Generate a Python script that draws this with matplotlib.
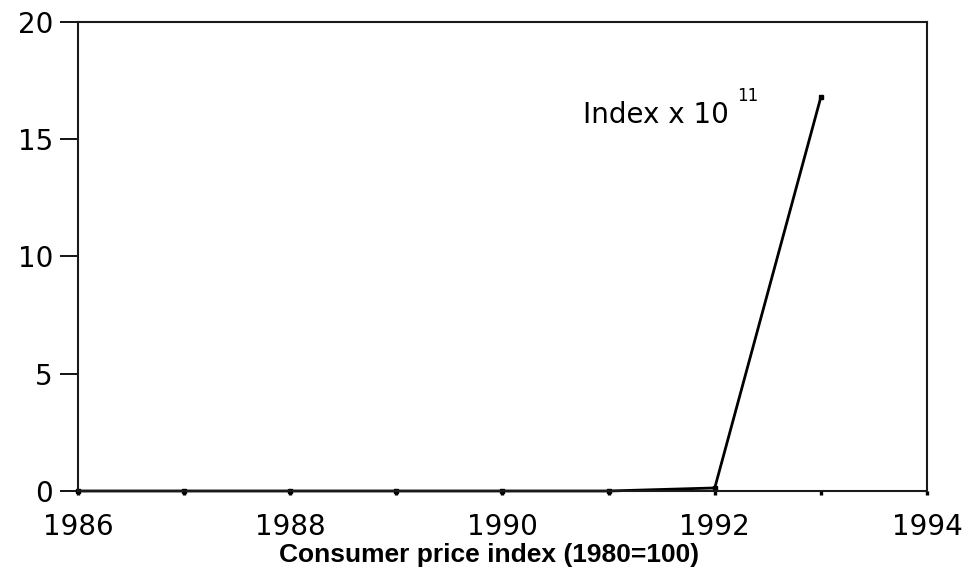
import matplotlib.pyplot as plt

years = [1986, 1987, 1988, 1989, 1990, 1991, 1992, 1993]
cpi = [0.0, 0.0, 0.0, 0.0, 0.0, 0.0, 0.13, 16.8]  # index x 10^11

xticks = [1986, 1988, 1990, 1992, 1994]
yticks = [0, 5, 10, 15, 20]

fig = plt.figure(figsize=(9.76, 5.74), dpi=100)
ax = fig.add_axes([0.0799, 0.1446, 0.8699, 0.8171])

ax.plot(years, cpi, color="black", lw=2.0, marker="s", markersize=3, clip_on=False)

ax.set_xlim(1986, 1994)
ax.set_ylim(0, 20)
ax.set_xticks(xticks)
ax.set_xticks(range(1986, 1995), minor=True)
ax.set_yticks(yticks)

ax.tick_params(axis="y", direction="out", length=13, width=1.3, pad=5, labelsize=20)
ax.tick_params(axis="x", which="both", direction="out", length=3, width=2.4, pad=13, labelsize=20)

for s in ax.spines.values():
    s.set_linewidth(1.5)
    s.set_color("#1a1a1a")

# label with a raised exponent
ax.text(1990.76, 15.7, "Index x 10", fontsize=20, ha="left", va="baseline")
ax.annotate("11", xy=(1990.76, 15.7), xytext=(111, 16), textcoords="offset points",
            fontsize=12, ha="left", va="baseline")

fig.text(0.501, 0.012, "Consumer price index (1980=100)", ha="center", va="bottom",
         fontsize=19, fontweight="bold", family="Liberation Sans")

fig.savefig("out.png", dpi=100)
